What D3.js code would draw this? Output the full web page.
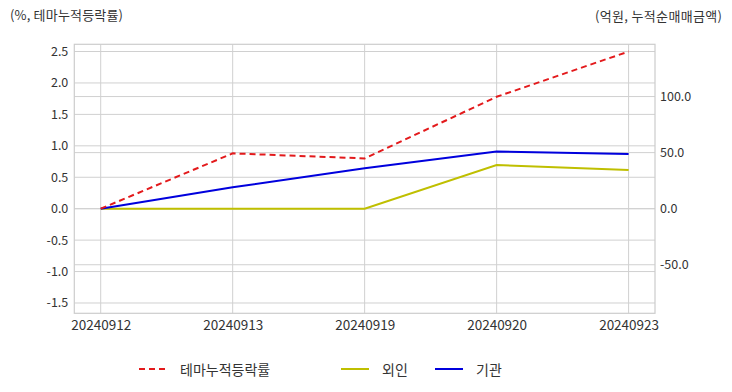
<!DOCTYPE html>
<html><head><meta charset="utf-8">
<script src="https://cdn.jsdelivr.net/npm/d3@7"></script>
<style>body{margin:0;background:#fff;} text{font-family:"Noto Sans CJK KR","Noto Sans",sans-serif;}</style>
</head><body>
<svg id="c" width="732" height="392"></svg>
<script>
const dates = ["20240912","20240913","20240919","20240920","20240923"];
const themeReturn = [0, 0.88, 0.80, 1.78, 2.50];
const foreign = [0, 0, 0, 39.0, 34.6];
const institution = [0, 19.1, 36.1, 50.9, 48.8];
const leftTicks = [-1.5,-1.0,-0.5,0.0,0.5,1.0,1.5,2.0,2.5];
const rightTicks = [-50,0,50,100];
const leftTitle = "(%, 테마누적등락률)";
const rightTitle = "(억원, 누적순매매금액)";
const seriesNames = ["테마누적등락률","외인","기관"];

const svg = d3.select("#c");
const L=74.3, R=655, T=44.3, B=313.3;
const span=R-L, inner=span/1.1;
const x = d3.scalePoint().domain(dates).range([L+inner*0.05, R-inner*0.05]).padding(0);
const yL = d3.scaleLinear().domain([-1.664, 2.615]).range([B,T]);
const yR = d3.scaleLinear().domain([-93.3, 146.6]).range([B,T]);

const grid = svg.append("g").attr("stroke","#d0d0d0").attr("stroke-width",1);
leftTicks.forEach(t=>grid.append("line").attr("x1",L).attr("x2",R).attr("y1",yL(t)).attr("y2",yL(t)));
rightTicks.forEach(t=>grid.append("line").attr("x1",L).attr("x2",R).attr("y1",yR(t)).attr("y2",yR(t)));
dates.forEach(d=>grid.append("line").attr("x1",x(d)).attr("x2",x(d)).attr("y1",T).attr("y2",B));
svg.append("rect").attr("x",L).attr("y",T).attr("width",R-L).attr("height",B-T).attr("fill","none").attr("stroke","#cccccc").attr("stroke-width",1.2);

const axL = svg.append("g").attr("transform",`translate(${L},0)`)
  .call(d3.axisLeft(yL).tickValues(leftTicks).tickFormat(d3.format(".1f")).tickSize(0).tickPadding(6));
const axR = svg.append("g").attr("transform",`translate(${R},0)`)
  .call(d3.axisRight(yR).tickValues(rightTicks).tickFormat(d3.format(".1f")).tickSize(0).tickPadding(5));
const axB = svg.append("g").attr("transform",`translate(0,${B})`)
  .call(d3.axisBottom(x).tickSize(0).tickPadding(7));
[axL,axR].forEach(a=>{a.select(".domain").remove(); a.selectAll("text").attr("fill","#333").style("font-size","12.5px").style("font-family","'Noto Sans CJK KR',sans-serif");});
axB.select(".domain").remove();
axB.selectAll("text").attr("fill","#333").style("font-size","13.5px").style("font-family","'Noto Sans CJK KR',sans-serif");
axL.selectAll("text").text(d=>d3.format(".1f")(d).replace("−","-"));
axR.selectAll("text").text(d=>d3.format(".1f")(d).replace("−","-"));

const lineL = d3.line().x((d,i)=>x(dates[i])).y(d=>yL(d));
const lineR = d3.line().x((d,i)=>x(dates[i])).y(d=>yR(d));
svg.append("path").datum(foreign).attr("d",lineR).attr("fill","none").attr("stroke","#bfbf00").attr("stroke-width",2);
svg.append("path").datum(institution).attr("d",lineR).attr("fill","none").attr("stroke","#0000dd").attr("stroke-width",2);
svg.append("path").datum(themeReturn).attr("d",lineL).attr("fill","none").attr("stroke","#e31a1c").attr("stroke-width",2).attr("stroke-dasharray","6,4");

svg.append("text").attr("x",10).attr("y",20).attr("fill","#333").style("font-size","13px").attr("textLength",113).text(leftTitle);
svg.append("text").attr("x",595).attr("y",21).attr("fill","#333").style("font-size","13px").attr("textLength",127).text(rightTitle);

const leg = [
  {name:seriesNames[0], color:"#e31a1c", dash:"6,4", x:139},
  {name:seriesNames[1], color:"#bfbf00", dash:null, x:341},
  {name:seriesNames[2], color:"#0000dd", dash:null, x:435}
];
leg.forEach(l=>{
  svg.append("line").attr("x1",l.x).attr("x2",l.x+28).attr("y1",369).attr("y2",369).attr("stroke",l.color).attr("stroke-width",2).attr("stroke-dasharray",l.dash);
  svg.append("text").attr("x",l.x+41).attr("y",374.5).attr("fill","#333").style("font-size","14px").text(l.name);
});
</script>
</body></html>
